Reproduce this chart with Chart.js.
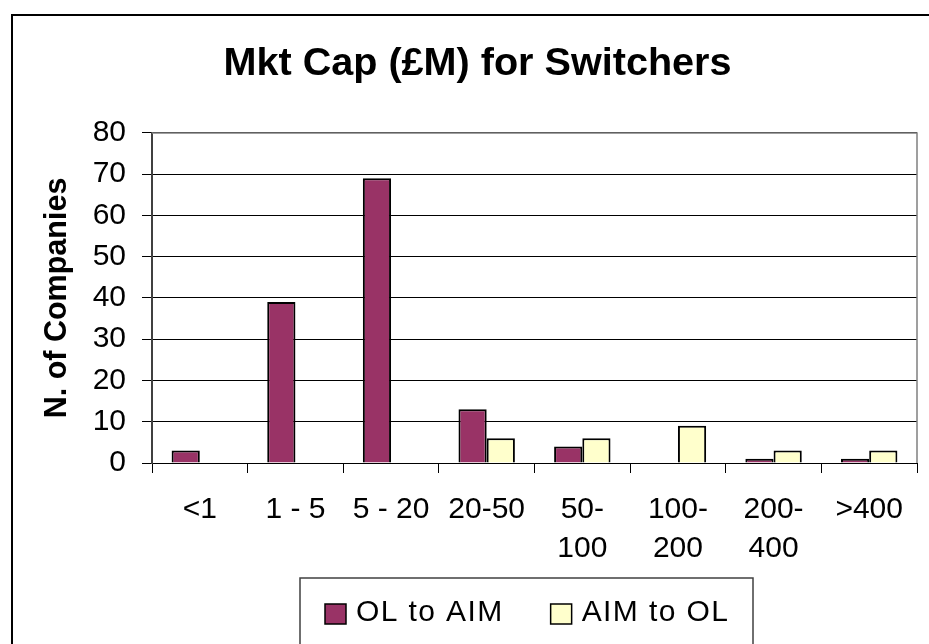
<!DOCTYPE html>
<html>
<head>
<meta charset="utf-8">
<script src="https://cdn.jsdelivr.net/npm/chart.js"></script>
<style>
  html, body { margin: 0; padding: 0; background: #fff; }
  #wrap { width: 929px; height: 644px; position: relative; }
</style>
</head>
<body>
<div id="wrap"><canvas id="mktcap"></canvas></div>
<script>
    // categories (Mkt Cap bands, £M) and counts
    const categories = ['<1', '1 - 5', '5 - 20', '20-50', ['50-', '100'], ['100-', '200'], ['200-', '400'], '>400'];
    const olToAim = [3, 39, 69, 13, 4, 0, 1, 1];
    const aimToOl = [0, 0, 0, 6, 6, 9, 3, 3];
    const yMin = 0, yMax = 80, yStep = 10;

    const FONT = "'Liberation Sans', Arial, sans-serif";
    Chart.defaults.font.family = FONT;
    Chart.defaults.color = '#000';

    // frame round the chart, grey plot border, and the boxed legend
    const decor = {
        id: 'decor',
        afterLayout(chart) {
            // title sits a little right of the canvas centre
            chart.titleBlock.left += 26;
        },
        afterDraw(chart) {
            const ctx = chart.ctx;
            const a = chart.chartArea;
            ctx.save();

            ctx.strokeStyle = '#808080';
            ctx.lineWidth = 1.5;
            ctx.beginPath();
            ctx.moveTo(a.left, a.top);
            ctx.lineTo(a.right, a.top);
            ctx.lineTo(a.right, a.bottom);
            ctx.stroke();

            ctx.strokeStyle = '#000';
            ctx.lineWidth = 2;
            ctx.strokeRect(12, 15, 1000, 800);

            // legend
            ctx.strokeStyle = '#404040';
            ctx.lineWidth = 1.5;
            ctx.strokeRect(300, 578, 453, 100);
            ctx.font = '30px ' + FONT;
            ctx.letterSpacing = '1.4px';
            ctx.textBaseline = 'middle';
            ctx.textAlign = 'left';
            let x = 325;
            chart.data.datasets.forEach(ds => {
                ctx.fillStyle = ds.backgroundColor;
                ctx.fillRect(x, 604, 21, 20);
                ctx.strokeStyle = '#000';
                ctx.lineWidth = 1.5;
                ctx.strokeRect(x, 604, 21, 20);
                ctx.fillStyle = '#000';
                ctx.fillText(ds.label, x + 31, 613);
                x += 31 + ctx.measureText(ds.label).width + 47;
            });
            ctx.restore();
        }
    };

    const data = {
        labels: categories,
        datasets: [
            {
                label: 'OL to AIM',
                backgroundColor: '#993366',
                borderColor: '#000',
                borderWidth: 2,
                data: olToAim
            },
            {
                label: 'AIM to OL',
                backgroundColor: '#FFFFCC',
                borderColor: '#000',
                borderWidth: 2,
                data: aimToOl
            }]
    };

    const config = {
        type: 'bar',
        data: data,
        options: {
            responsive: true,
            maintainAspectRatio: false,
            animation: false,
            layout: { padding: { left: 12, right: 12, top: 0, bottom: 0 } },
            datasets: { bar: { categoryPercentage: 0.59, barPercentage: 1 } },
            plugins: {
                legend: { display: false },
                tooltip: { enabled: false },
                title: {
                    display: true,
                    text: 'Mkt Cap (£M) for Switchers',
                    color: '#000',
                    font: { size: 39.6, weight: 'bold', lineHeight: 1.2 },
                    padding: { top: 40.2, bottom: 45.2 }
                }
            },
            scales: {
                x: {
                    grid: { drawOnChartArea: false, drawTicks: true, tickLength: 10, color: '#000' },
                    border: { color: '#000', width: 1 },
                    ticks: { font: { size: 30, lineHeight: 1.3 }, padding: 17, maxRotation: 0, autoSkip: false },
                    afterFit(scale) { scale.height = 181; }
                },
                y: {
                    min: yMin,
                    max: yMax,
                    ticks: { stepSize: yStep, font: { size: 30 }, padding: 16 },
                    grid: { color: '#000', lineWidth: 1, tickLength: 10 },
                    border: { color: '#404040', width: 2 },
                    title: {
                        display: true,
                        text: 'N. of Companies',
                        font: { size: 30.5, weight: 'bold', lineHeight: 1.2 },
                        padding: { top: 27.3, bottom: 0 }
                    },
                    afterFit(scale) { scale.width = 140; }
                }
            }
        },
        plugins: [decor]
    };

    const mktcap = new Chart(document.getElementById('mktcap'), config);
</script>
</body>
</html>
